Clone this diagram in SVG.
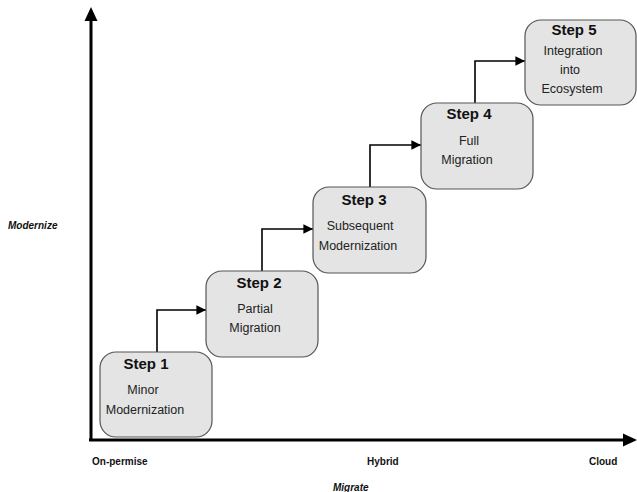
<svg xmlns="http://www.w3.org/2000/svg" width="637" height="492" viewBox="0 0 637 492">
  <style>
    .box { fill: #e4e4e4; stroke: #555555; stroke-width: 1.2; }
    .title { font-family: "Liberation Sans", Arial, sans-serif; font-weight: bold; font-size: 15px; fill: #111; text-anchor: middle; }
    .body { font-family: "Liberation Sans", Arial, sans-serif; font-size: 12.5px; fill: #222; text-anchor: middle; }
    .axislabel { font-family: "Liberation Sans", Arial, sans-serif; font-weight: bold; font-size: 10px; fill: #111; }
    .axisname { font-family: "Liberation Sans", Arial, sans-serif; font-weight: bold; font-style: italic; font-size: 10px; fill: #111; }
    .conn { fill: none; stroke: #000; stroke-width: 1.6; }
    .axis { fill: none; stroke: #000; stroke-width: 3; }
  </style>
  <defs>
    <marker id="arrow" viewBox="0 0 10 10" refX="10" refY="5" markerWidth="6" markerHeight="6" orient="auto" markerUnits="strokeWidth">
      <path d="M0,0 L10,5 L0,10 Z" fill="#000"/>
    </marker>
  </defs>
  <rect width="637" height="492" fill="#ffffff"/>

  <!-- axes -->
  <g id="axes">
    <line class="axis" x1="91" y1="441" x2="91" y2="20"/>
    <polygon points="91,7 84.5,21 97.5,21" fill="#000"/>
    <line class="axis" x1="89" y1="440" x2="624" y2="440"/>
    <polygon points="637,440 623,433.5 623,446.5" fill="#000"/>
    <text class="axisname" x="8" y="229">Modernize</text>
    <text class="axislabel" x="92" y="465">On-permise</text>
    <text class="axislabel" x="367" y="465">Hybrid</text>
    <text class="axislabel" x="589" y="465">Cloud</text>
    <text class="axisname" x="333" y="491">Migrate</text>
  </g>

  <!-- connectors -->
  <g id="connectors">
    <path class="conn" d="M157,352 V310 H206" marker-end="url(#arrow)"/>
    <path class="conn" d="M262,271 V229 H313" marker-end="url(#arrow)"/>
    <path class="conn" d="M370,187 V145 H421" marker-end="url(#arrow)"/>
    <path class="conn" d="M475,103 V61 H525" marker-end="url(#arrow)"/>
  </g>

  <g id="step1">
    <rect class="box" x="100" y="352" width="112" height="85" rx="16"/>
    <text class="title" x="146" y="369">Step 1</text>
    <text class="body" x="143" y="394">Minor</text>
    <text class="body" x="145" y="414">Modernization</text>
  </g>

  <g id="step2">
    <rect class="box" x="206" y="271" width="112" height="86" rx="16"/>
    <text class="title" x="259" y="288">Step 2</text>
    <text class="body" x="255" y="313">Partial</text>
    <text class="body" x="255" y="332">Migration</text>
  </g>

  <g id="step3">
    <rect class="box" x="313" y="187" width="113" height="86" rx="16"/>
    <text class="title" x="364" y="205">Step 3</text>
    <text class="body" x="360" y="230">Subsequent</text>
    <text class="body" x="358" y="250">Modernization</text>
  </g>

  <g id="step4">
    <rect class="box" x="421" y="103" width="112" height="86" rx="16"/>
    <text class="title" x="469" y="119">Step 4</text>
    <text class="body" x="469" y="145">Full</text>
    <text class="body" x="467" y="164">Migration</text>
  </g>

  <g id="step5">
    <rect class="box" x="525" y="20" width="111" height="85" rx="16"/>
    <text class="title" x="574" y="35">Step 5</text>
    <text class="body" x="573" y="55">Integration</text>
    <text class="body" x="570" y="74">into</text>
    <text class="body" x="572" y="93">Ecosystem</text>
  </g>
</svg>
